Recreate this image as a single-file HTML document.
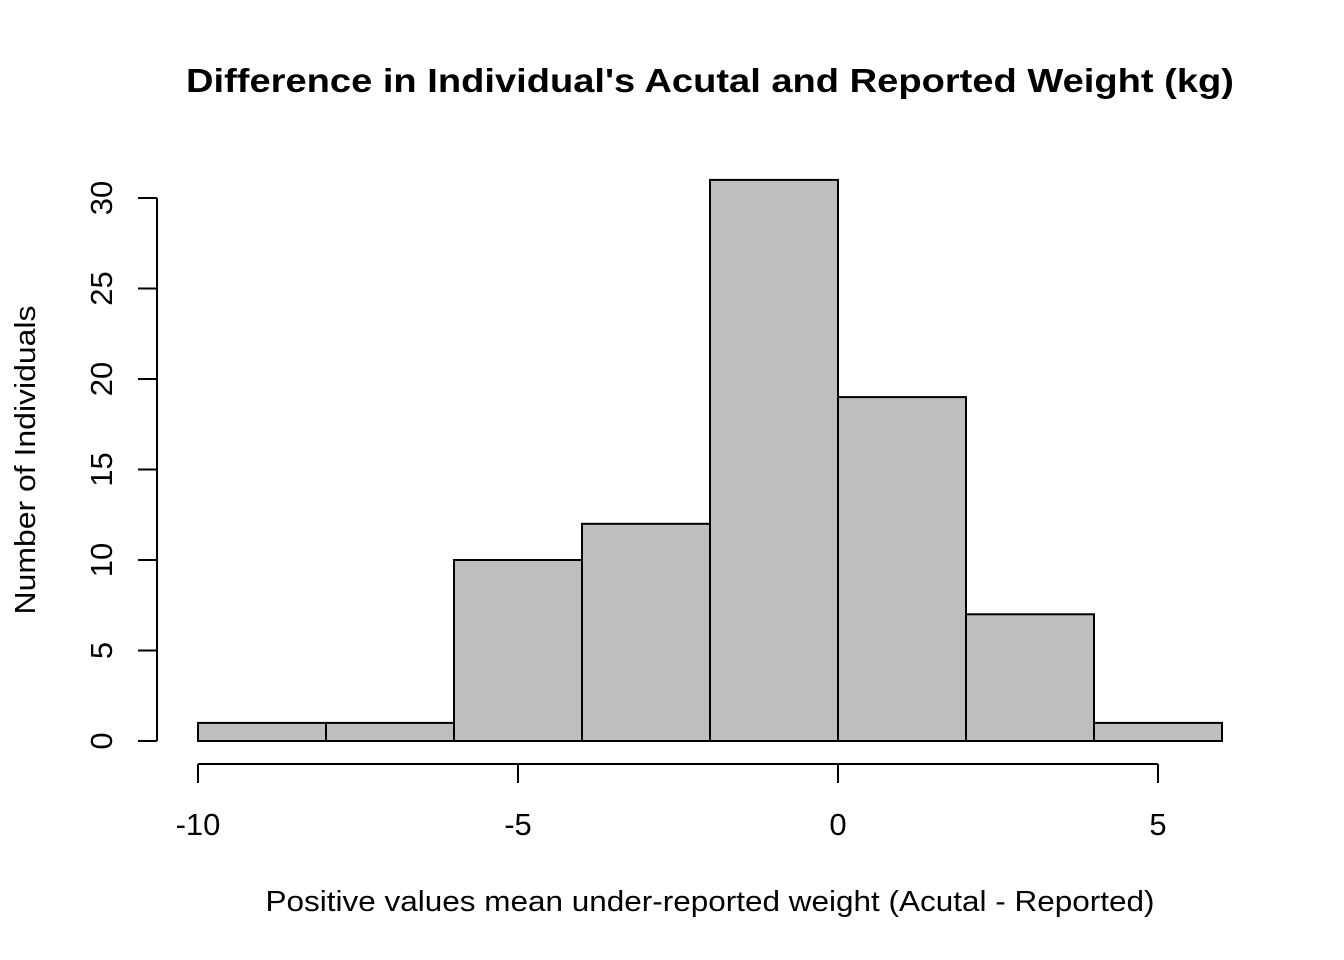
<!DOCTYPE html>
<html><head><meta charset="utf-8"><style>html,body{margin:0;padding:0;background:#fff}svg{display:block}text{font-family:"Liberation Sans",Arial,sans-serif;fill:#000}</style></head>
<body>
<svg id="chart" width="1344" height="960">
<text x="710" y="92" text-anchor="middle" font-size="33" font-weight="bold" textLength="1048" lengthAdjust="spacingAndGlyphs">Difference in Individual's Acutal and Reported Weight (kg)</text>
<text x="710" y="911" text-anchor="middle" font-size="29" textLength="889" lengthAdjust="spacingAndGlyphs">Positive values mean under-reported weight (Acutal - Reported)</text>
<text transform="translate(35,460) rotate(-90)" text-anchor="middle" font-size="29" textLength="309" lengthAdjust="spacingAndGlyphs">Number of Individuals</text>
<g id="bars"></g><g id="xaxis"></g><g id="yaxis"></g>
</svg>
<script>
const binEdges=[-10,-8,-6,-4,-2,0,2,4,6];
const counts=[1,1,10,12,31,19,7,1];
const xTicks=[-10,-5,0,5];
const yTicks=[0,5,10,15,20,25,30];
const NS="http://www.w3.org/2000/svg";
const X=v=>838+v*64;
const Y=v=>741-v*18.1;
function mk(tag,attrs,parent){const e=document.createElementNS(NS,tag);for(const k in attrs)e.setAttribute(k,attrs[k]);document.getElementById(parent).appendChild(e);return e;}
counts.forEach((c,i)=>{
 const r=mk('rect',{x:X(binEdges[i]),y:Y(c),width:X(binEdges[i+1])-X(binEdges[i]),height:Y(0)-Y(c),fill:'#bebebe',stroke:'#000','stroke-width':2},'bars');
 
 
});
let l=mk('line',{x1:X(xTicks[0]),x2:X(xTicks[xTicks.length-1]),y1:764,y2:764,stroke:'#000','stroke-width':2},'xaxis');


xTicks.forEach(t=>{
 const tk=mk('line',{x1:X(t),x2:X(t),y1:764,y2:783,stroke:'#000','stroke-width':2},'xaxis');
 
 
 const tx=mk('text',{x:X(t),y:835,'text-anchor':'middle','font-size':'31'},'xaxis');
 tx.textContent=t;
 
 
});
l=mk('line',{x1:157,x2:157,y1:Y(yTicks[0]),y2:Y(yTicks[yTicks.length-1]),stroke:'#000','stroke-width':2},'yaxis');


yTicks.forEach(t=>{
 const tk=mk('line',{x1:138,x2:157,y1:Y(t),y2:Y(t),stroke:'#000','stroke-width':2},'yaxis');
 
 
 const tx=mk('text',{transform:`translate(112,${Y(t)}) rotate(-90)`,'text-anchor':'middle','font-size':'31'},'yaxis');
 tx.textContent=t;
 
 
});
</script>
</body></html>
